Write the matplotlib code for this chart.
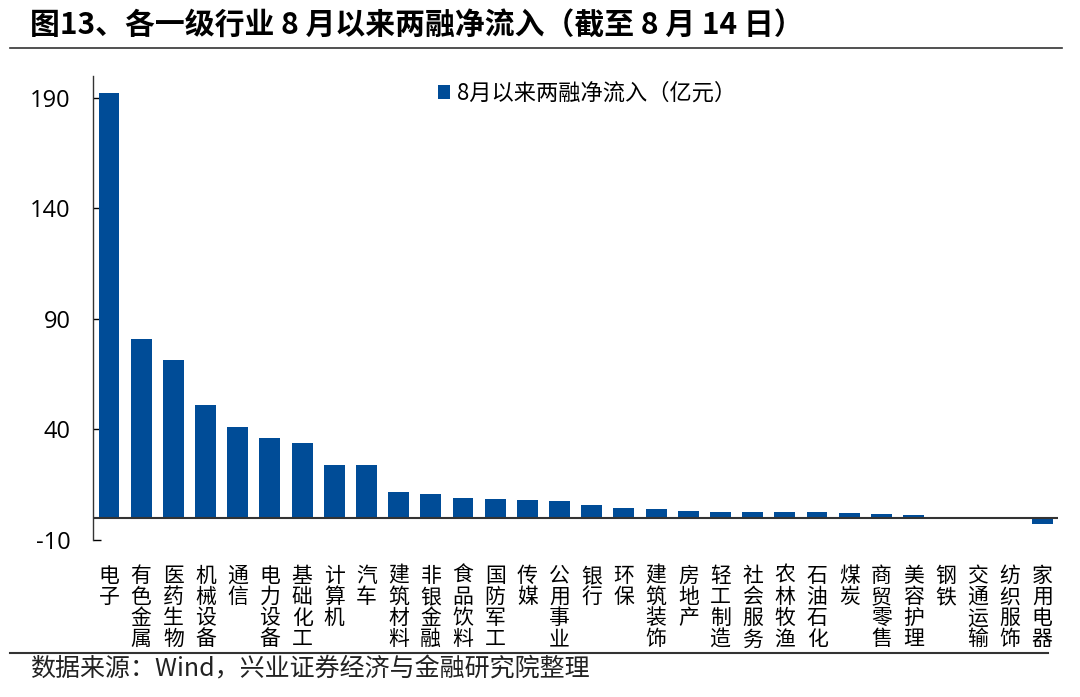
import matplotlib
matplotlib.use('Agg')
import matplotlib.pyplot as plt
import numpy as np

plt.rcParams['font.family'] = ['Noto Sans CJK SC', 'DejaVu Sans']
plt.rcParams['axes.unicode_minus'] = False

# 数据
industries = ['电子', '有色金属', '医药生物', '机械设备', '通信', '电力设备', '基础化工',
              '计算机', '汽车', '建筑材料', '非银金融', '食品饮料', '国防军工', '传媒',
              '公用事业', '银行', '环保', '建筑装饰', '房地产', '轻工制造', '社会服务',
              '农林牧渔', '石油石化', '煤炭', '商贸零售', '美容护理', '钢铁', '交通运输',
              '纺织服饰', '家用电器']
inflow = [192.0, 80.9, 71.5, 51.0, 40.9, 36.2, 33.8, 24.1, 23.9, 11.7, 11.0, 9.2, 8.5, 8.3,
          7.5, 5.8, 4.3, 3.9, 3.3, 2.8, 2.8, 2.8, 2.7, 2.4, 1.9, 1.5, 0.4, -0.5, -0.5, -3.0]
yticks = [-10, 40, 90, 140, 190]

blue = '#004C97'
x = np.arange(len(industries))

fig = plt.figure(figsize=(10.8, 6.97), dpi=100)
ax = fig.add_axes([0.086, 0.2253, 0.894, 0.666])

ax.bar(x, inflow, width=0.65, color=blue, label='8月以来两融净流入（亿元）', zorder=2)
ax.axhline(0, color='#333333', lw=1.5, zorder=3)

ax.set_xlim(-0.5, len(industries) - 0.5)
ax.set_ylim(-10, 200)
ax.set_yticks(yticks)
ax.set_yticklabels([str(v) for v in yticks], family=['Open Sans', 'DejaVu Sans'])
ax.tick_params(axis='y', direction='in', length=6, width=1, labelsize=17, pad=16)
ax.set_xticks(x)
ax.set_xticklabels(['\n'.join(n) for n in industries], fontsize=15, linespacing=0.95, va='top')
ax.tick_params(axis='x', length=0, pad=18)

for s in ['top', 'right', 'bottom']:
    ax.spines[s].set_visible(False)
ax.spines['left'].set_color('#333333')
ax.spines['left'].set_linewidth(1)

leg = ax.legend(loc='upper left', bbox_to_anchor=(0.337, 1.03), frameon=False, fontsize=16,
                handlelength=0.55, handleheight=0.55, handletextpad=0.3)

# 标题、分隔线和来源
fig.text(0.028, 0.965, '图13、各一级行业 8 月以来两融净流入（截至 8 月 14 日）',
         fontsize=21.5, fontweight='bold', va='center', ha='left')
fig.add_artist(plt.Line2D([0.009, 0.983], [0.931, 0.931], color='#333333', lw=1.2))
fig.add_artist(plt.Line2D([0.009, 0.97], [0.063, 0.063], color='#333333', lw=1.5))
fig.text(0.028, 0.04, '数据来源：Wind，兴业证券经济与金融研究院整理', fontsize=18,
         va='center', ha='left', color='#222222')

fig.savefig('out.png', dpi=100)
